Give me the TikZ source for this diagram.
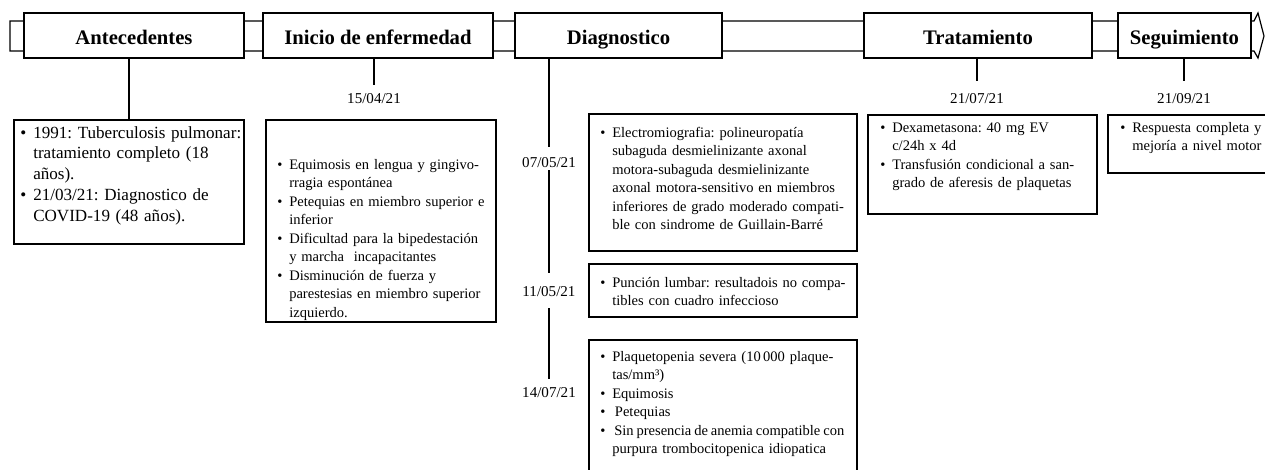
\documentclass[tikz,border=0pt]{standalone}
\usepackage{fontspec}
\setmainfont{Liberation Serif}
\usetikzlibrary{fit}
\setlength\parindent{0pt}
\frenchspacing
\newcommand\bl{\makebox[9pt][l]{\textbullet}}
\newcommand\ind{\hspace*{9pt}}
\newcommand\blA{\makebox[9.75pt][l]{\textbullet}}
\newcommand\indA{\hspace*{9.75pt}}
\begin{document}
\begin{tikzpicture}[x=0.75pt,y=-0.75pt,
  ln/.style={line width=0.9pt},
  hdr/.style={draw, line width=0.9pt, fill=white, inner sep=0pt},
  hlab/.style={inner sep=0pt, anchor=base, font=\fontsize{15.5}{18}\selectfont\bfseries},
  cbox/.style={draw, line width=0.9pt, inner sep=0pt},
  txt/.style={anchor=base west, inner sep=0pt, text width=400pt, align=left,
    font=\fontsize{10.9}{13.9}\selectfont},
  txtA/.style={txt, font=\fontsize{12.8}{15.6}\selectfont},
  dt/.style={inner sep=0pt, font=\fontsize{11.3}{13}\selectfont}]
\useasboundingbox (0,0) rectangle (1265,469);
\fill[white] (0,0) rectangle (1265,469);
\begin{scope}
\clip (0,0) rectangle (1265,469);
% band with arrow head
\draw[ln, fill=white] (10,21) -- (1254,21) -- (1258,13) -- (1264,36) -- (1258,58) -- (1254,51) -- (10,51) -- cycle;
% header boxes
\node[hdr, fit={(24,13) (244,58)}] (hA) {};
\node[hdr, fit={(263,13) (493,58)}] (hI) {};
\node[hdr, fit={(515,13) (722,58)}] (hD) {};
\node[hdr, fit={(864,13) (1092,58)}] (hT) {};
\node[hdr, fit={(1118,13) (1251,58)}] (hS) {};
\node[hlab] (lA) at ([yshift=-7pt]hA.center) {Antecedentes};
\node[hlab] (lI) at ([yshift=-7pt]hI.center) {Inicio de enfermedad};
\node[hlab] (lD) at ([yshift=-7pt]hD.center) {Diagnostico};
\node[hlab] (lT) at ([yshift=-7pt]hT.center) {Tratamiento};
\node[hlab] (lS) at ([yshift=-7pt]hS.center) {Seguimiento};
% content boxes
\node[cbox, fit={(14,120) (244,244)}] (b1) {};
\node[cbox, fit={(266,120) (496,322)}] (b2) {};
\node[cbox, fit={(589,114) (857,251)}] (b3) {};
\node[cbox, fit={(589,264) (857,317)}] (b4) {};
\node[cbox, fit={(589,340) (857,480)}] (b5) {};
\node[cbox, fit={(868,115) (1097,214)}] (b6) {};
\node[cbox, fit={(1108,115) (1290,173)}] (b7) {};
% texts
\node[txtA] (t1) at (20,138) {\blA 1991: Tuberculosis pulmonar:\\
\indA tratamiento completo (18\\
\indA años).\\
\blA 21/03/21: Diagnostico de\\
\indA COVID-19 (48 años).};
\node[txt] (t2) at (277,169) {\bl Equimosis en lengua y gingivo-\\
\ind rragia espontánea\\
\bl Petequias en miembro superior e\\
\ind inferior\\
\bl Dificultad para la bipedestación\\
\ind y marcha \ incapacitantes\\
\bl Disminución de fuerza y\\
\ind parestesias en miembro superior\\
\ind izquierdo.};
\node[txt] (t3) at (600,137) {\bl Electromiografia: polineuropatía\\
\ind subaguda desmielinizante axonal\\
\ind motora-subaguda desmielinizante\\
\ind axonal motora-sensitivo en miembros\\
\ind inferiores de grado moderado compati-\\
\ind ble con sindrome de Guillain-Barré};
\node[txt] (t4) at (600,287) {\bl Punción lumbar: resultadois no compa-\\
\ind tibles con cuadro infeccioso};
\node[txt] (t5) at (600,361) {\bl Plaquetopenia severa (10\,000 plaque-\\
\ind tas/mm³)\\
\bl Equimosis\\
\bl\hspace{2pt}Petequias\\
\bl\hspace{1.5pt}{\spaceskip=0.2em Sin presencia de anemia compatible con}\\
\ind purpura trombocitopenica idiopatica};
\node[txt] (t6) at (880,132) {\bl Dexametasona: 40 mg EV\\
\ind c/24h x 4d\\
\bl Transfusión condicional a san-\\
\ind grado de aferesis de plaquetas};
\node[txt] (t7) at (1120,132) {\bl Respuesta completa y\\
\ind mejoría a nivel motor};
% dates
\node[dt] (dI) at (374,99) {15/04/21};
\node[dt] (dT) at (977,99) {21/07/21};
\node[dt] (dS) at (1184,99) {21/09/21};
\node[dt] (d1) at (549,163) {07/05/21};
\node[dt] (d2) at (549,292) {11/05/21};
\node[dt] (d3) at (549,393) {14/07/21};
% connector end points
\coordinate (eI) at (374,85);
\coordinate (eT) at (977,81);
\coordinate (eS) at (1184,81);
\coordinate (g1) at (549,147);
\coordinate (g2) at (549,170);
\coordinate (g3) at (549,273);
\coordinate (g4) at (549,308);
\coordinate (g5) at (549,379);
% connectors
\draw[ln] (hA.south -| b1.north) -- (b1.north);
\draw[ln] (hI.south -| eI) -- (eI);
\draw[ln] (hT.south -| eT) -- (eT);
\draw[ln] (hS.south -| eS) -- (eS);
\draw[ln] (hD.south -| g1) -- (g1);
\draw[ln] (g2) -- (g3);
\draw[ln] (g4) -- (g5);
\end{scope}
\end{tikzpicture}
\end{document}
